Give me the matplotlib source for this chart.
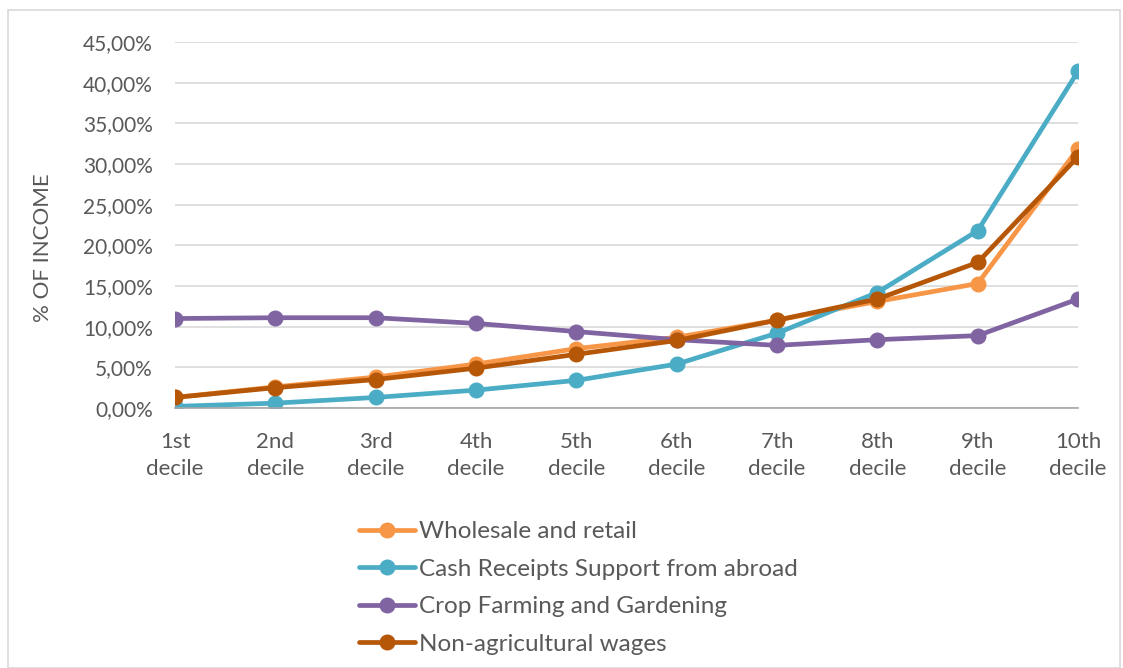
import matplotlib
matplotlib.use('Agg')
import matplotlib.pyplot as plt
from matplotlib.patches import Rectangle
from matplotlib.ticker import FuncFormatter, MultipleLocator

deciles = ['1st\ndecile', '2nd\ndecile', '3rd\ndecile', '4th\ndecile', '5th\ndecile',
           '6th\ndecile', '7th\ndecile', '8th\ndecile', '9th\ndecile', '10th\ndecile']

# values in % of income
wholesale = [1.3, 2.6, 3.8, 5.4, 7.3, 8.7, 10.8, 13.1, 15.3, 31.9]
cash_abroad = [0.2, 0.6, 1.3, 2.2, 3.4, 5.4, 9.2, 14.2, 21.8, 41.4]
crop_farming = [11.0, 11.1, 11.1, 10.4, 9.4, 8.4, 7.7, 8.4, 8.9, 13.4]
non_agri = [1.3, 2.5, 3.5, 4.9, 6.6, 8.3, 10.8, 13.4, 17.9, 30.9]

series = [
    ('Wholesale and retail', wholesale, '#F79646'),
    ('Cash Receipts Support from abroad', cash_abroad, '#4BACC6'),
    ('Crop Farming and Gardening', crop_farming, '#8064A2'),
    ('Non-agricultural wages', non_agri, '#B65708'),
]

plt.rcParams['font.family'] = ['Lato', 'DejaVu Sans']
text_col = '#595959'

fig = plt.figure(figsize=(11.23, 6.68), dpi=100)
ax = fig.add_axes([0.1558, 0.3892, 0.8042, 0.548])

x = list(range(len(deciles)))
for name, vals, col in series:
    ax.plot(x, vals, color=col, lw=3.4, marker='o', ms=10.5, label=name,
            solid_capstyle='round')

ax.set_xlim(0, 9)
ax.set_ylim(0, 45)
ax.yaxis.set_major_locator(MultipleLocator(5))
ax.yaxis.set_major_formatter(FuncFormatter(lambda v, p: f'{v:.2f}%'.replace('.', ',')))
ax.set_xticks(x)
ax.set_xticklabels(deciles, linespacing=1.45)
ax.grid(axis='y', color='#D9D9D9', lw=1.2)
ax.set_axisbelow(True)
for s in ['top', 'right', 'left']:
    ax.spines[s].set_visible(False)
ax.spines['bottom'].set_color('#A6A6A6')
ax.spines['bottom'].set_linewidth(1.2)
ax.tick_params(length=0, labelcolor=text_col)
ax.tick_params(axis='y', labelsize=15, pad=16)
ax.tick_params(axis='x', labelsize=16, pad=17)
ax.set_ylabel('% OF INCOME', fontsize=16, color=text_col)
ax.yaxis.set_label_coords(53 / 1123, 1 - 248 / 668, transform=fig.transFigure)

fig.legend(loc='upper left', bbox_to_anchor=(0.309, 0.238), frameon=False,
           fontsize=17.5, labelcolor=text_col, handlelength=2.3, handletextpad=0.15,
           labelspacing=0.68, borderpad=0)

fig.patches.append(Rectangle((0.007, 0.0), 0.99, 0.985, transform=fig.transFigure,
                             fill=False, edgecolor='#D9D9D9', lw=1.2))

fig.savefig('out.png', dpi=100)
